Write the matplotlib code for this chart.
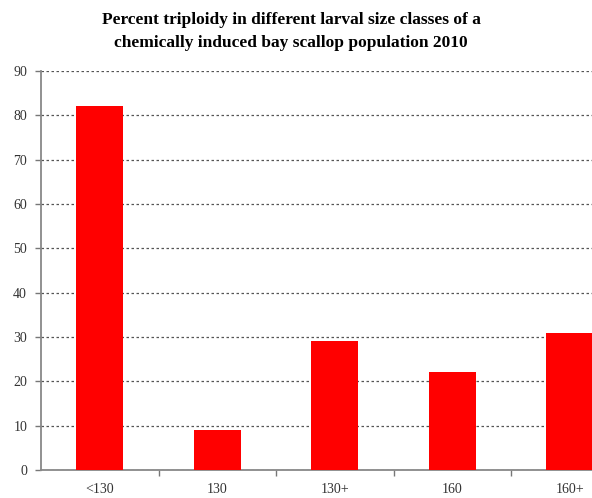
import matplotlib
matplotlib.use("Agg")
import matplotlib.pyplot as plt
import numpy as np

# size classes and % triploid
size_classes = ["<130", "130", "130+", "160", "160+"]
pct_triploid = [82, 9, 29, 22, 31]
y_ticks = list(range(0, 100, 10))

plt.rcParams["font.family"] = ["Liberation Serif", "DejaVu Serif"]

fig = plt.figure(figsize=(5.92, 4.98), dpi=100)
# axes run past the right edge, the last category is clipped
ax = fig.add_axes([41 / 592, 28 / 498, 587.5 / 592, 399 / 498])

x = np.arange(len(size_classes))
ax.bar(x, pct_triploid, width=0.4, color="#ff0000", zorder=3)

ax.set_xlim(-0.5, len(size_classes) - 0.5)
ax.set_ylim(0, 90)
ax.set_yticks(y_ticks)
ax.yaxis.grid(True, linestyle=(0, (2, 2)), color="#555555", linewidth=0.9, zorder=0)

ax.set_xticks(x)
ax.set_xticklabels(size_classes)
ax.set_xticks(np.arange(0.5, len(size_classes) - 0.5), minor=True)
ax.tick_params(axis="x", which="major", length=0, pad=9, labelsize=10, labelcolor="#333333")
ax.tick_params(axis="x", which="minor", length=4, width=1, color="#777777", direction="out")
ax.tick_params(axis="y", length=4, width=1, color="#777777", pad=6, labelsize=10, labelcolor="#333333")

for side in ("top", "right"):
    ax.spines[side].set_visible(False)
for side in ("left", "bottom"):
    ax.spines[side].set_color("#888888")
    ax.spines[side].set_linewidth(1.3)

fig.text(0.492, 0.976,
         "Percent triploidy in different larval size classes of a\n"
         "chemically induced bay scallop population 2010",
         ha="center", va="top", fontsize=12.5, fontweight="bold", linespacing=1.55)

fig.savefig("out.png", dpi=100)
